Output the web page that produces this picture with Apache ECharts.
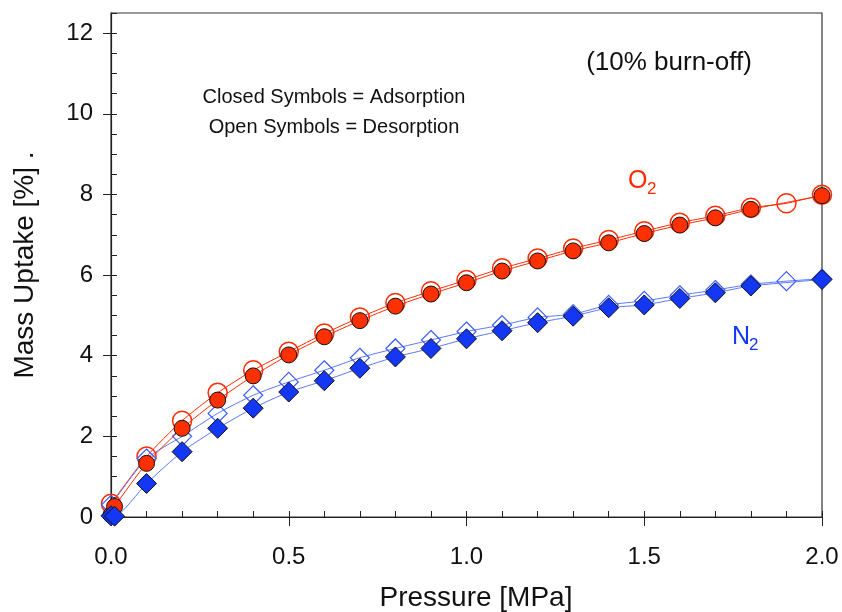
<!DOCTYPE html>
<html><head><meta charset="utf-8">
<script src="https://cdn.jsdelivr.net/npm/echarts@6/dist/echarts.min.js"></script>
<style>html,body{margin:0;padding:0;background:#fff}#c{width:842px;height:612px}</style>
</head><body><div id="c"></div>
<script>
// Pressure [MPa]
var pAds = [0, 0.01, 0.1, 0.2, 0.3, 0.4, 0.5, 0.6, 0.7, 0.8, 0.9, 1.0, 1.1, 1.2, 1.3, 1.4, 1.5, 1.6, 1.7, 1.8, 2.0];
var pDes = [0, 0.1, 0.2, 0.3, 0.4, 0.5, 0.6, 0.7, 0.8, 0.9, 1.0, 1.1, 1.2, 1.3, 1.4, 1.5, 1.6, 1.7, 1.8, 1.9, 2.0];
// Mass uptake [%]
var o2Ads = [0.05, 0.26, 1.33, 2.2, 2.9, 3.5, 4.02, 4.47, 4.87, 5.23, 5.53, 5.81, 6.1, 6.35, 6.6, 6.8, 7.03, 7.24, 7.42, 7.63, 7.97];
var o2Des = [0.33, 1.5, 2.39, 3.08, 3.64, 4.1, 4.55, 4.95, 5.31, 5.6, 5.88, 6.17, 6.41, 6.66, 6.87, 7.09, 7.3, 7.47, 7.67, 7.78, 7.99];
var n2Ads = [0.03, 0.02, 0.83, 1.62, 2.2, 2.7, 3.1, 3.38, 3.69, 3.97, 4.18, 4.42, 4.62, 4.82, 4.98, 5.19, 5.26, 5.42, 5.56, 5.73, 5.89];
var n2Des = [0.3, 1.45, 2.0, 2.57, 3.02, 3.35, 3.64, 3.95, 4.18, 4.39, 4.6, 4.76, 4.95, 5.03, 5.26, 5.36, 5.5, 5.63, 5.77, 5.85, 5.91];
var yTicks = [0, 2, 4, 6, 8, 10, 12];

function pairs(xs, ys) { return xs.map(function (x, i) { return [x, ys[i]]; }); }

var FONT = 'Liberation Sans, Arial, sans-serif';
var RED = '#ff2a00', BLUE = '#1436f5';
var chart = echarts.init(document.getElementById('c'), null, {renderer: 'canvas'});
chart.setOption({
  animation: false,
  grid: {left: 111, right: 20, top: 13, bottom: 95, outerBoundsMode: 'none', containLabel: false,
         show: true, borderColor: '#333', borderWidth: 1.2, backgroundColor: 'transparent'},
  xAxis: [{
    type: 'value', min: 0, max: 2, interval: 0.5,
    axisLine: {lineStyle: {color: '#222', width: 1.2}},
    axisTick: {show: true, inside: false, length: 9, lineStyle: {color: '#222'}},
    axisLabel: {fontFamily: FONT, fontSize: 24, color: '#111', margin: 28, formatter: function (v) { return v.toFixed(1); }},
    splitLine: {show: false},
    name: 'Pressure [MPa]', nameLocation: 'middle', nameGap: 67,
    nameTextStyle: {fontFamily: FONT, fontSize: 28, color: '#111', padding: [0, 0, 0, 19]}
  }, {
    type: 'value', min: 0, max: 2, interval: 0.1, position: 'bottom',
    axisLine: {show: false},
    axisTick: {show: true, inside: true, length: 6, lineStyle: {color: '#222'}},
    axisLabel: {show: false}, splitLine: {show: false}
  }],
  yAxis: [{
    type: 'value', min: 0, max: 12.5, interval: 2,
    axisLine: {show: true, lineStyle: {color: '#222', width: 1.2}},
    axisTick: {show: true, inside: false, length: 8, customValues: yTicks, lineStyle: {color: '#222'}},
    axisLabel: {fontFamily: FONT, fontSize: 24, color: '#111', margin: 18, customValues: yTicks},
    splitLine: {show: false},
    name: 'Mass Uptake [%] .', nameLocation: 'middle', nameGap: 72,
    nameTextStyle: {fontFamily: FONT, fontSize: 28, color: '#111'}
  }, {
    type: 'value', min: 0, max: 12.5, interval: 0.5, position: 'left',
    axisLine: {show: false},
    axisTick: {show: true, inside: true, length: 6, lineStyle: {color: '#222'}},
    axisLabel: {show: false}, splitLine: {show: false}
  }],
  series: [
    {type: 'line', name: 'O2 desorption', data: pairs(pDes, o2Des), smooth: 0.2,
     symbol: 'circle', symbolSize: 19, showAllSymbol: true,
     lineStyle: {color: RED, width: 1},
     itemStyle: {color: 'rgba(255,255,255,0)', borderColor: RED, borderWidth: 1.5}, z: 2},
    {type: 'line', name: 'N2 desorption', data: pairs(pDes, n2Des), smooth: 0.2,
     symbol: 'diamond', symbolSize: [19, 19], showAllSymbol: true,
     lineStyle: {color: '#5a78ff', width: 1},
     itemStyle: {color: 'rgba(255,255,255,0)', borderColor: '#3a5cff', borderWidth: 1.2}, z: 2},
    {type: 'line', name: 'O2 adsorption', data: pairs(pAds, o2Ads), smooth: 0.2,
     symbol: 'circle', symbolSize: 16, showAllSymbol: true,
     lineStyle: {color: RED, width: 1},
     itemStyle: {color: '#ff3000', borderColor: '#111', borderWidth: 1}, z: 3},
    {type: 'line', name: 'N2 adsorption', data: pairs(pAds, n2Ads), smooth: 0.2,
     symbol: 'diamond', symbolSize: [20, 20], showAllSymbol: true,
     lineStyle: {color: '#5a78ff', width: 1},
     itemStyle: {color: BLUE, borderColor: '#111', borderWidth: 1}, z: 3}
  ],
  graphic: [
    {type: 'text', x: 334, y: 97, style: {text: 'Closed Symbols = Adsorption', font: '20px ' + FONT, fill: '#111', textAlign: 'center', textVerticalAlign: 'middle'}},
    {type: 'text', x: 334, y: 127, style: {text: 'Open Symbols = Desorption', font: '20px ' + FONT, fill: '#111', textAlign: 'center', textVerticalAlign: 'middle'}},
    {type: 'text', x: 669, y: 63, style: {text: '(10% burn-off)', font: '26px ' + FONT, fill: '#111', textAlign: 'center', textVerticalAlign: 'middle'}},
    {type: 'text', x: 628, y: 181, style: {text: 'O', font: '25px ' + FONT, fill: RED, textAlign: 'left', textVerticalAlign: 'middle'}},
    {type: 'text', x: 647, y: 189, style: {text: '2', font: '17px ' + FONT, fill: RED, textAlign: 'left', textVerticalAlign: 'middle'}},
    {type: 'text', x: 732, y: 337, style: {text: 'N', font: '25px ' + FONT, fill: BLUE, textAlign: 'left', textVerticalAlign: 'middle'}},
    {type: 'text', x: 749, y: 345, style: {text: '2', font: '17px ' + FONT, fill: BLUE, textAlign: 'left', textVerticalAlign: 'middle'}}
  ]
});
</script></body></html>
